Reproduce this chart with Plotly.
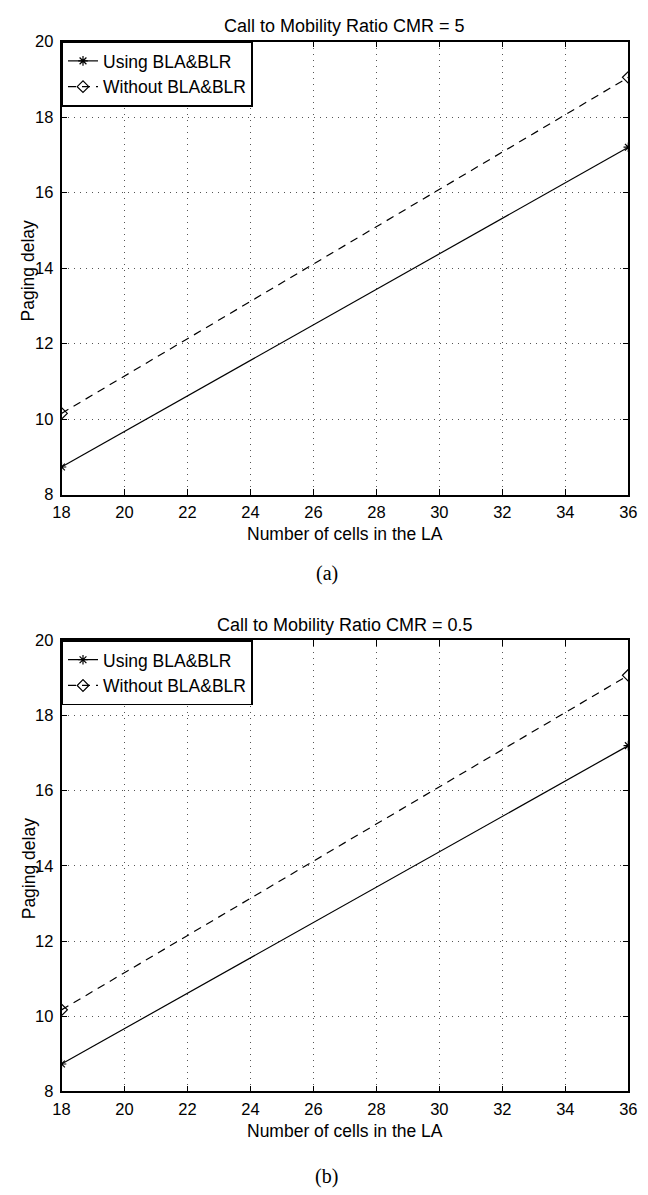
import plotly.graph_objects as go

# Paging delay vs. number of cells in the location area
cells = [18, 36]
using_cmr5 = [8.73, 17.2]
without_cmr5 = [10.15, 19.05]
using_cmr05 = [8.73, 17.2]
without_cmr05 = [10.17, 19.07]

x_ticks = list(range(18, 37, 2))
y_ticks = list(range(8, 21, 2))

titles = ["Call to Mobility Ratio CMR = 5", "Call to Mobility Ratio CMR = 0.5"]
captions = ["(a)", "(b)"]
series_names = ["Using BLA&BLR", "Without BLA&BLR"]

W, H = 648, 1195
SANS = "Liberation Sans, Arial, Helvetica, sans-serif"
SERIF = "Liberation Serif, Times New Roman, serif"

# panel geometry in pixels (left, right, top, bottom)
panels = [(54, 637, 33, 493), (54, 637, 641, 1099)]


def px_x(v):
    return v / W


def px_y(v):
    return 1 - v / H


fig = go.Figure()

data = [(using_cmr5, without_cmr5), (using_cmr05, without_cmr05)]
for i, (using, without) in enumerate(data):
    sfx = "" if i == 0 else "2"
    leg = "legend" if i == 0 else "legend2"
    fig.add_trace(go.Scatter(
        x=cells, y=using, name=series_names[0], mode="lines+markers",
        line=dict(color="black", width=1.2),
        marker=dict(symbol="asterisk-open", size=8, color="black",
                    line=dict(color="black", width=1.2)),
        xaxis="x" + sfx, yaxis="y" + sfx, legend=leg,
    ))
    fig.add_trace(go.Scatter(
        x=cells, y=without, name=series_names[1], mode="lines+markers",
        line=dict(color="black", width=1.2, dash="8px,6px"),
        marker=dict(symbol="diamond-open", size=9, color="black",
                    line=dict(color="black", width=1.2)),
        xaxis="x" + sfx, yaxis="y" + sfx, legend=leg,
    ))

axis_common = dict(
    showline=True, linecolor="black", linewidth=1.5, mirror="ticks",
    ticks="inside", ticklen=6, tickcolor="black", tickwidth=1.2,
    showgrid=True, gridcolor="#555555", gridwidth=1, griddash="1px,5px",
    zeroline=False, tickfont=dict(family=SANS, size=16.5, color="black"),
)

layout = dict(
    width=W, height=H, margin=dict(l=0, r=0, t=0, b=0),
    paper_bgcolor="white", plot_bgcolor="white", showlegend=True,
)

annotations = []
for i, (l, r, t, b) in enumerate(panels):
    sfx = "" if i == 0 else "2"
    xa = dict(axis_common, domain=[px_x(l), px_x(r)], range=[18, 36],
              tickvals=x_ticks, anchor="y" + sfx, ticklabelstandoff=2)
    ya = dict(axis_common, domain=[px_y(b), px_y(t)], range=[8, 20],
              tickvals=y_ticks, anchor="x" + sfx, ticklabelstandoff=3)
    layout["xaxis" + sfx] = xa
    layout["yaxis" + sfx] = ya

    leg = "legend" if i == 0 else "legend2"
    layout[leg] = dict(
        x=px_x(l), y=px_y(t), xanchor="left", yanchor="top",
        bgcolor="white", bordercolor="black", borderwidth=1.5,
        font=dict(family=SANS, size=17.5, color="black"),
        tracegroupgap=0, itemwidth=30,
    )

    cx = (l + r) / 2
    annotations.append(dict(
        text=titles[i], x=px_x(cx), y=px_y(t - 16), xref="paper", yref="paper",
        showarrow=False, xanchor="center", yanchor="middle",
        font=dict(family=SANS, size=18, color="black")))
    annotations.append(dict(
        text="Number of cells in the LA", x=px_x(cx), y=px_y(b + 40),
        xref="paper", yref="paper", showarrow=False,
        xanchor="center", yanchor="middle",
        font=dict(family=SANS, size=17.5, color="black")))
    annotations.append(dict(
        text="Paging delay", x=px_x(20), y=px_y((t + b) / 2 + 3),
        xref="paper", yref="paper", showarrow=False, textangle=-90,
        xanchor="center", yanchor="middle",
        font=dict(family=SANS, size=17.5, color="black")))
    annotations.append(dict(
        text=captions[i], x=px_x(327), y=px_y(b + (80 if i == 0 else 86)),
        xref="paper", yref="paper", showarrow=False,
        xanchor="center", yanchor="middle",
        font=dict(family=SERIF, size=20, color="black")))

layout["annotations"] = annotations
fig.update_layout(**layout)

fig.write_html("out.html")
